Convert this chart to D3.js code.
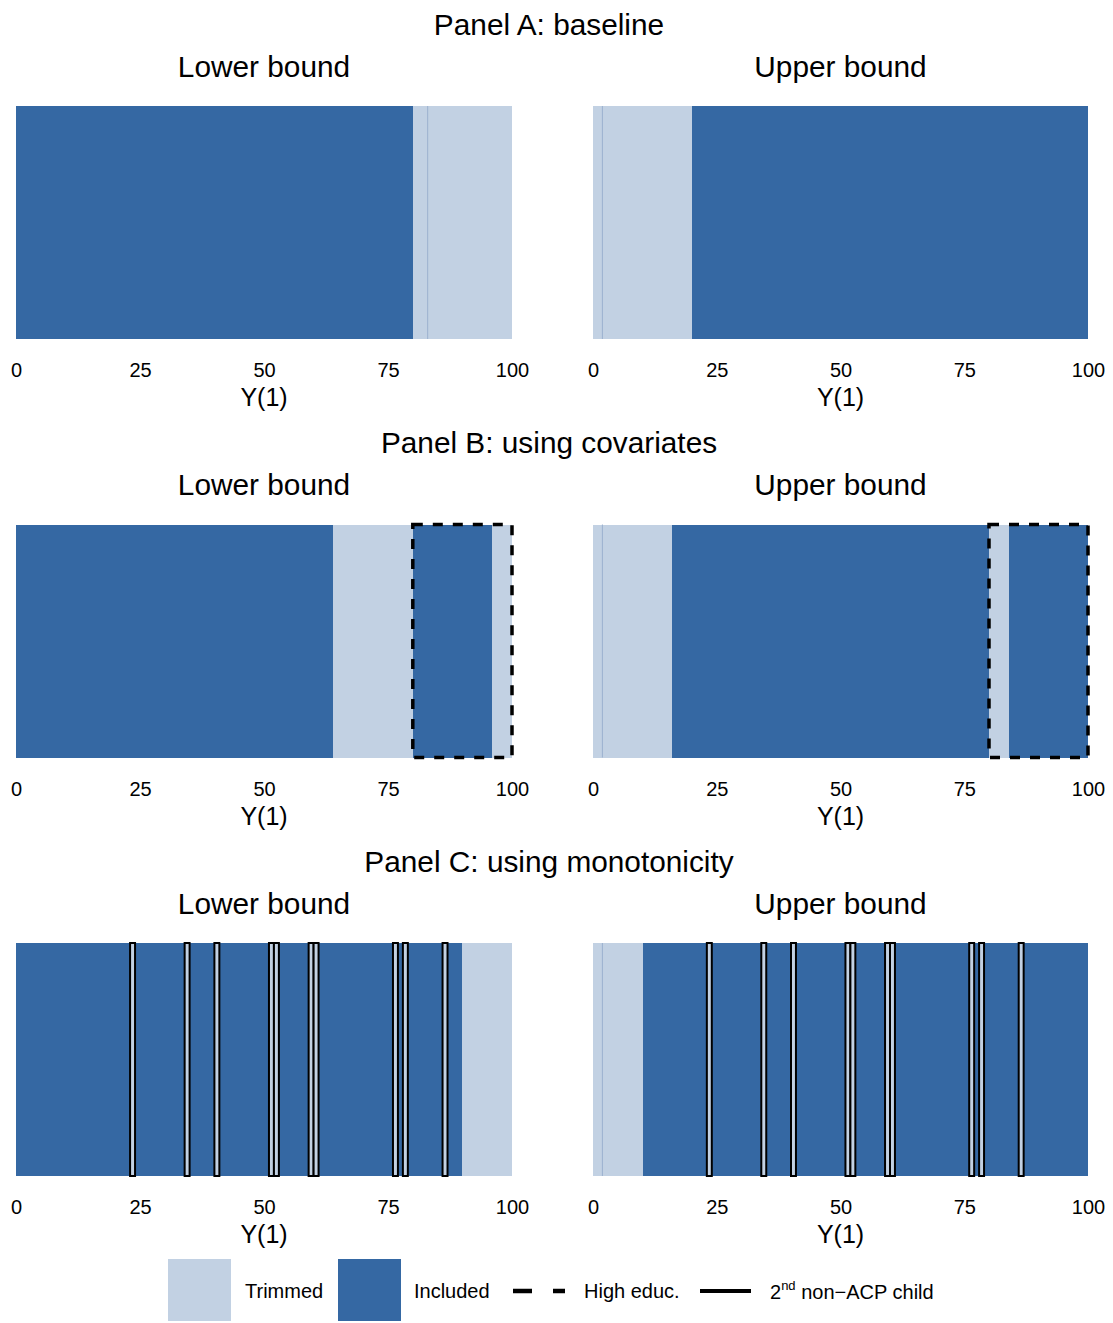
<html>
<head>
  <script src="https://d3js.org/d3.v7.min.js"></script>
  <style>
    body { margin: 0; background: white; }
    svg text { font-family: "Liberation Sans", Arial, Helvetica, sans-serif; fill: black; }
  </style>
</head>
<body>
  <svg id="root" width="1113" height="1323"></svg>
  <script>
    // chart values
    var panelTitles = ['Panel A: baseline', 'Panel B: using covariates', 'Panel C: using monotonicity'];
    var boundNames = ['Lower bound', 'Upper bound'];
    var xTicks = [0, 25, 50, 75, 100];

    // segments: [from, to, status]
    var aLowerSegs = [[0, 80, 'Included'], [80, 100, 'Trimmed']];
    var aUpperSegs = [[0, 20, 'Trimmed'], [20, 100, 'Included']];
    var bLowerSegs = [[0, 64, 'Included'], [64, 80, 'Trimmed'], [80, 96, 'Included'], [96, 100, 'Trimmed']];
    var bUpperSegs = [[0, 16, 'Trimmed'], [16, 80, 'Included'], [80, 84, 'Trimmed'], [84, 100, 'Included']];
    var cLowerSegs = [[0, 90, 'Included'], [90, 100, 'Trimmed']];
    var cUpperSegs = [[0, 10, 'Trimmed'], [10, 100, 'Included']];

    // thin cell boundaries inside trimmed areas
    var aLowerLines = [83];
    var aUpperLines = [1.9];
    var bLowerLines = [];
    var bUpperLines = [1.9];
    var cLowerLines = [];
    var cUpperLines = [1.9];

    // high educ. group (dashed box)
    var bLowerBox = [[80, 100]];
    var bUpperBox = [[80, 100]];

    // 2nd non-ACP child cells (solid boxes), each one unit wide
    var cLowerCells = [23, 34, 40, 51, 52, 59, 60, 76, 78, 86];
    var cUpperCells = [23, 34, 40, 51, 52, 59, 60, 76, 78, 86];

    var legendLabels = ['Trimmed', 'Included', 'High educ.', 'non\u2212ACP child'];

    var panels = [
      [{ segs: aLowerSegs, lines: aLowerLines, boxes: [], cells: [] },
       { segs: aUpperSegs, lines: aUpperLines, boxes: [], cells: [] }],
      [{ segs: bLowerSegs, lines: bLowerLines, boxes: bLowerBox, cells: [] },
       { segs: bUpperSegs, lines: bUpperLines, boxes: bUpperBox, cells: [] }],
      [{ segs: cLowerSegs, lines: cLowerLines, boxes: [], cells: cLowerCells },
       { segs: cUpperSegs, lines: cUpperLines, boxes: [], cells: cUpperCells }]
    ];

    var color = d3.scaleOrdinal()
      .domain(['Trimmed', 'Included'])
      .range(['#c2d1e3', '#3568a3']);

    var svg = d3.select('svg#root');

    var xScales = [
      d3.scaleLinear().domain([0, 100]).range([16, 512]),
      d3.scaleLinear().domain([0, 100]).range([593, 1088])
    ];
    var rowStep = 418.5;
    var barTop = 106;
    var barHeight = 233;

    panels.forEach(function (row, r) {
      var off = r * rowStep;
      var g = svg.append('g').attr('transform', 'translate(0,' + off + ')');

      g.append('text')
        .attr('x', 549)
        .attr('y', 24)
        .attr('text-anchor', 'middle')
        .attr('dominant-baseline', 'central')
        .style('font-size', '29.8px')
        .text(panelTitles[r]);

      row.forEach(function (p, c) {
        var x = xScales[c];
        var mid = (x.range()[0] + x.range()[1]) / 2;

        g.append('text')
          .attr('x', mid)
          .attr('y', 66)
          .attr('text-anchor', 'middle')
          .attr('dominant-baseline', 'central')
          .style('font-size', '29.8px')
          .text(boundNames[c]);

        g.selectAll(null)
          .data(p.segs)
          .enter()
          .append('rect')
          .attr('x', function (d) { return x(d[0]); })
          .attr('width', function (d) { return x(d[1]) - x(d[0]); })
          .attr('y', barTop)
          .attr('height', barHeight)
          .attr('fill', function (d) { return color(d[2]); })
          .attr('shape-rendering', 'crispEdges');

        g.selectAll(null)
          .data(p.lines)
          .enter()
          .append('line')
          .attr('x1', function (d) { return x(d); })
          .attr('x2', function (d) { return x(d); })
          .attr('y1', barTop)
          .attr('y2', barTop + barHeight)
          .attr('stroke', '#9bb1cf')
          .attr('stroke-width', 1);

        g.selectAll(null)
          .data(p.cells)
          .enter()
          .append('rect')
          .attr('x', function (d) { return x(d); })
          .attr('width', function (d) { return x(d + 1) - x(d); })
          .attr('y', barTop)
          .attr('height', barHeight)
          .attr('fill', color('Trimmed'))
          .attr('stroke', 'black')
          .attr('stroke-width', 2);

        g.selectAll(null)
          .data(p.boxes)
          .enter()
          .append('rect')
          .attr('x', function (d) { return x(d[0]); })
          .attr('width', function (d) { return x(d[1]) - x(d[0]); })
          .attr('y', barTop)
          .attr('height', barHeight)
          .attr('fill', 'none')
          .attr('stroke', 'black')
          .attr('stroke-width', 3.5)
          .attr('stroke-dasharray', '10,10');

        var axis = g.append('g')
          .attr('transform', 'translate(0,' + (barTop + barHeight) + ')')
          .call(d3.axisBottom(x).tickValues(xTicks).tickSize(0).tickPadding(24));
        axis.select('.domain').remove();
        axis.selectAll('text')
          .style('font-size', '20px')
          .style('font-family', '"Liberation Sans", Arial, Helvetica, sans-serif');

        g.append('text')
          .attr('x', mid)
          .attr('y', 397)
          .attr('text-anchor', 'middle')
          .attr('dominant-baseline', 'central')
          .style('font-size', '25px')
          .text('Y(1)');
      });
    });

    // legend
    var leg = svg.append('g');
    var ly = 1291;
    leg.append('rect').attr('x', 168).attr('y', 1259).attr('width', 63).attr('height', 62).attr('fill', color('Trimmed'));
    leg.append('rect').attr('x', 338).attr('y', 1259).attr('width', 63).attr('height', 62).attr('fill', color('Included'));
    leg.append('line').attr('x1', 513).attr('x2', 565).attr('y1', ly).attr('y2', ly)
      .attr('stroke', 'black').attr('stroke-width', 4.5).attr('stroke-dasharray', '19,21');
    leg.append('line').attr('x1', 700).attr('x2', 751).attr('y1', ly).attr('y2', ly)
      .attr('stroke', 'black').attr('stroke-width', 4);

    var legText = [[245, legendLabels[0]], [414, legendLabels[1]], [584, legendLabels[2]]];
    leg.selectAll(null)
      .data(legText)
      .enter()
      .append('text')
      .attr('x', function (d) { return d[0]; })
      .attr('y', ly)
      .attr('dominant-baseline', 'central')
      .style('font-size', '20px')
      .text(function (d) { return d[1]; });

    var t = leg.append('text')
      .attr('x', 770)
      .attr('y', ly + 8)
      .style('font-size', '20px');
    t.append('tspan').text('2');
    t.append('tspan').attr('dy', -9).style('font-size', '13px').text('nd');
    t.append('tspan').attr('dy', 9).text(' ' + legendLabels[3]);
  </script>
</body>
</html>
